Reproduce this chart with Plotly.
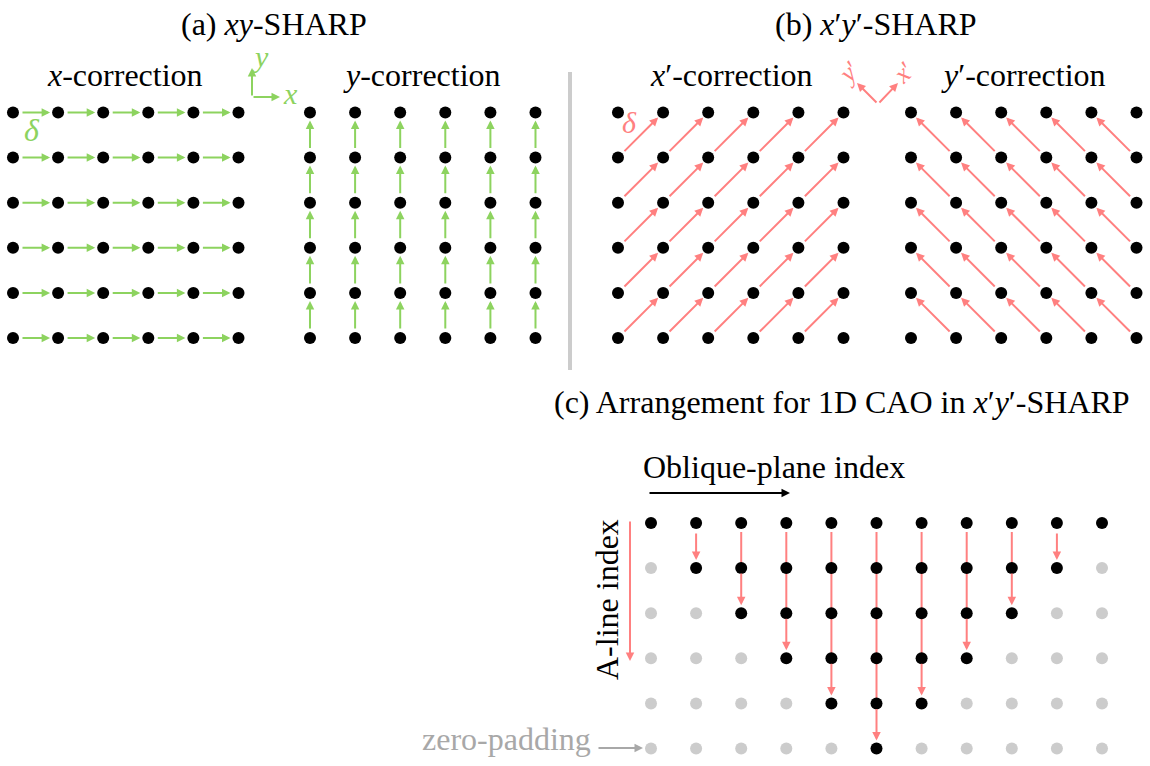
import plotly.graph_objects as go

W, H = 1150, 766

# ---------------- data ----------------
grid_cols = [0, 1, 2, 3, 4, 5]          # 6 x 6 sample grids of panels (a) and (b)
grid_rows = [0, 1, 2, 3, 4, 5]
c_cols = [0, 1, 2, 3, 4, 5, 6, 7, 8, 9, 10]   # oblique-plane index
c_rows = [0, 1, 2, 3, 4, 5]                   # A-line index
c_depth = [0, 1, 2, 3, 4, 5, 4, 3, 2, 1, 0]   # last valid A-line per oblique plane

# ---------------- style ----------------
GREEN = "#8dd35f"
RED = "#ff8080"
GRAY = "#cccccc"
TGRAY = "#a8a8a8"
FONT = "Liberation Serif"
STEP = 45.1
PAD = 0.25
DOT = 12
AS = 0.85

fig = go.Figure()
layout_axes = {}


def add_panel(i, x0, y0, ncol, nrow):
    sfx = "" if i == 1 else str(i)
    xa = dict(domain=[(x0 - PAD * STEP) / W, (x0 + (ncol - 1 + PAD) * STEP) / W],
              range=[-PAD, ncol - 1 + PAD], visible=False, fixedrange=True,
              anchor="y" + sfx)
    ya = dict(domain=[1 - (y0 + (nrow - 1 + PAD) * STEP) / H, 1 - (y0 - PAD * STEP) / H],
              range=[nrow - 1 + PAD, -PAD], visible=False, fixedrange=True,
              anchor="x" + sfx)
    layout_axes["xaxis" + sfx] = xa
    layout_axes["yaxis" + sfx] = ya
    return "x" + sfx, "y" + sfx


pa_x = add_panel(1, 13, 112.5, len(grid_cols), len(grid_rows))
pa_y = add_panel(2, 310, 112.5, len(grid_cols), len(grid_rows))
pb_x = add_panel(3, 618, 112.5, len(grid_cols), len(grid_rows))
pb_y = add_panel(4, 911, 112.5, len(grid_cols), len(grid_rows))
pc = add_panel(5, 651, 523, len(c_cols), len(c_rows))

annotations = []


def arrow(ref, head, tail, color, so=8, sso=8):
    annotations.append(dict(
        xref=ref[0], yref=ref[1], axref=ref[0], ayref=ref[1],
        x=head[0], y=head[1], ax=tail[0], ay=tail[1], text="",
        showarrow=True, arrowhead=2, arrowsize=AS, arrowwidth=2,
        arrowcolor=color, standoff=so, startstandoff=sso))


def dots(ref, xs, ys, color):
    fig.add_trace(go.Scatter(x=xs, y=ys, mode="markers", xaxis=ref[0], yaxis=ref[1],
                             marker=dict(color=color, size=DOT, line=dict(width=0)),
                             cliponaxis=False, hoverinfo="skip", showlegend=False))


gx = [c for r in grid_rows for c in grid_cols]
gy = [r for r in grid_rows for c in grid_cols]

# (a) x-correction
dots(pa_x, gx, gy, "black")
for r in grid_rows:
    for c in grid_cols[:-1]:
        arrow(pa_x, (c + 1, r), (c, r), GREEN)
# (a) y-correction
dots(pa_y, gx, gy, "black")
for c in grid_cols:
    for r in grid_rows[1:]:
        arrow(pa_y, (c, r - 1), (c, r), GREEN)
# (b) x'-correction
dots(pb_x, gx, gy, "black")
for c in grid_cols[:-1]:
    for r in grid_rows[1:]:
        arrow(pb_x, (c + 1, r - 1), (c, r), RED, so=7, sso=7)
# (b) y'-correction
dots(pb_y, gx, gy, "black")
for c in grid_cols[1:]:
    for r in grid_rows[1:]:
        arrow(pb_y, (c - 1, r - 1), (c, r), RED, so=7, sso=7)

# (c) arrangement
gap = 9 / STEP
for c, d in zip(c_cols, c_depth):
    if d >= 2:
        fig.add_trace(go.Scatter(x=[c, c], y=[0 + gap, d - 1], mode="lines",
                                 xaxis=pc[0], yaxis=pc[1],
                                 line=dict(color=RED, width=2),
                                 hoverinfo="skip", showlegend=False))
    if d >= 1:
        arrow(pc, (c, d), (c, d - 1), RED, so=8, sso=(9 if d == 1 else 4))

cx_g = [c for r in c_rows for c, d in zip(c_cols, c_depth) if r > d]
cy_g = [r for r in c_rows for c, d in zip(c_cols, c_depth) if r > d]
cx_b = [c for r in c_rows for c, d in zip(c_cols, c_depth) if r <= d]
cy_b = [r for r in c_rows for c, d in zip(c_cols, c_depth) if r <= d]
dots(pc, cx_g, cy_g, GRAY)
dots(pc, cx_b, cy_b, "black")


# ---------------- text & decorations (paper coords from pixels) ----------------
def P(x, y):
    return x / W, 1 - y / H


def label(text, x, y, size=32, color="black", angle=0, xanchor="center"):
    px, py = P(x, y)
    annotations.append(dict(xref="paper", yref="paper", x=px, y=py, text=text,
                            showarrow=False, xanchor=xanchor, yanchor="middle",
                            textangle=angle,
                            font=dict(family=FONT, size=size, color=color)))


def parrow(head, tail, color, width=2):
    hx, hy = P(*head)
    annotations.append(dict(xref="paper", yref="paper", x=hx, y=hy,
                            ax=tail[0] - head[0], ay=tail[1] - head[1], text="",
                            showarrow=True, arrowhead=2, arrowsize=AS,
                            arrowwidth=width, arrowcolor=color))


label("(a) <i>xy</i>-SHARP", 274, 24)
label("(b) <i>x</i>′<i>y</i>′-SHARP", 876, 24)
label("<i>x</i>-correction", 125, 75)
label("<i>y</i>-correction", 422, 75)
label("<i>x</i>′-correction", 731, 75)
label("<i>y</i>′-correction", 1023, 75)
label("(c) Arrangement for 1D CAO in <i>x</i>′<i>y</i>′-SHARP", 842, 402)
label("Oblique-plane index", 774, 467)
label("A-line index", 607, 600, angle=-90)
label("zero-padding", 593, 739, color=TGRAY, xanchor="right")

label("<i>δ</i>", 32, 130, size=32, color=GREEN)
label("<i>δ</i>", 629, 123, size=30, color=RED)

# green xy icon
parrow((280, 97), (252, 97), GREEN)
parrow((252, 68), (252, 97), GREEN)
label("<i>y</i>", 260, 57, size=30, color=GREEN)
label("<i>x</i>", 290, 93, size=30, color=GREEN)

# red x'y' icon
parrow((857, 83), (878, 104), RED)
parrow((898, 83), (878, 104), RED)
label("<i>y</i>′", 849, 73, size=26, color=RED, angle=-45)
label("<i>x</i>′", 904, 73, size=26, color=RED, angle=-45)

# axis arrows of panel (c)
parrow((790, 493), (648, 493), "black")
parrow((630, 661), (630, 520), RED)
parrow((643, 748), (597, 748), TGRAY)

shapes = [dict(type="line", xref="paper", yref="paper",
               x0=570 / W, x1=570 / W, y0=1 - 72 / H, y1=1 - 370 / H,
               line=dict(color=GRAY, width=4))]

fig.update_layout(width=W, height=H, autosize=False,
                  margin=dict(l=0, r=0, t=0, b=0, pad=0),
                  paper_bgcolor="white", plot_bgcolor="rgba(0,0,0,0)",
                  font=dict(family=FONT),
                  showlegend=False, annotations=annotations, shapes=shapes,
                  **layout_axes)

fig.write_html("out.html", config={"displayModeBar": False})
